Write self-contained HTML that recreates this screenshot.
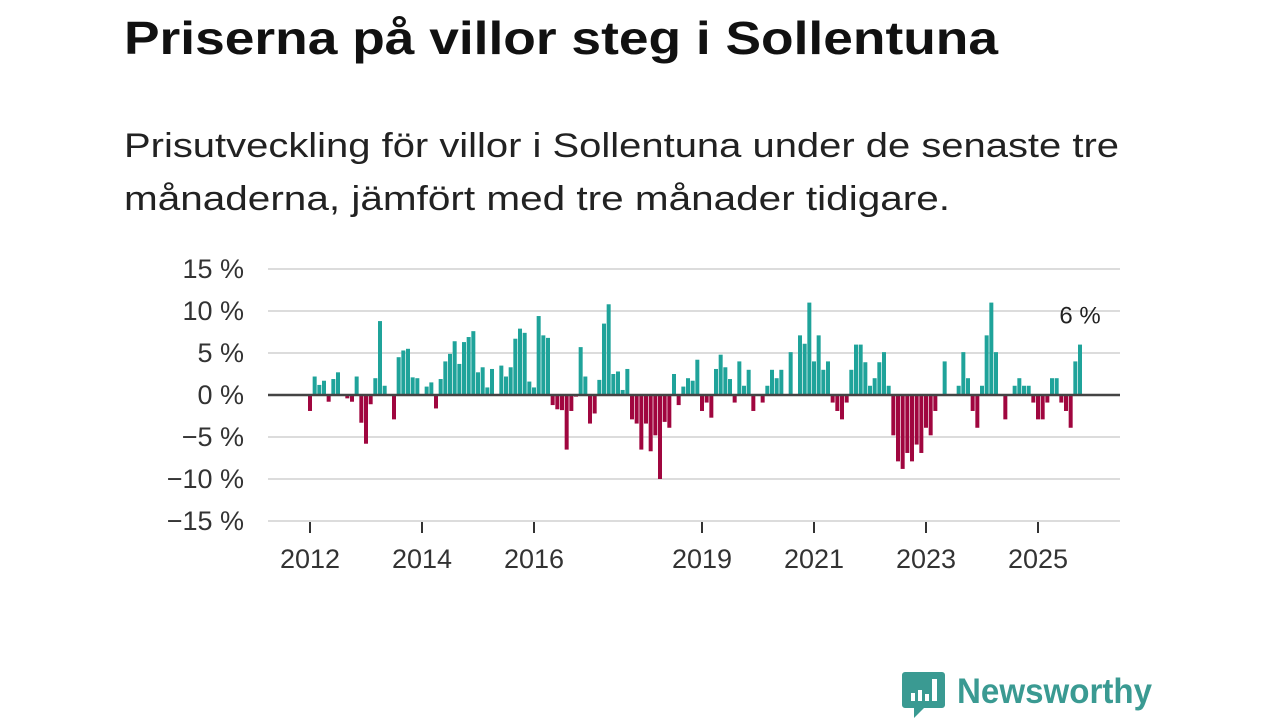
<!DOCTYPE html>
<html><head><meta charset="utf-8"><style>
html,body{margin:0;padding:0;background:#fff;width:1280px;height:720px;overflow:hidden}
svg{display:block;font-family:"Liberation Sans",sans-serif}
</style></head><body>
<svg id="chart" width="1280" height="720" viewBox="0 0 1280 720">
<text x="124" y="54" font-size="46" font-weight="bold" fill="#111" textLength="874" lengthAdjust="spacingAndGlyphs">Priserna på villor steg i Sollentuna</text>
<text x="124" y="157" font-size="34" fill="#222" textLength="995" lengthAdjust="spacingAndGlyphs">Prisutveckling för villor i Sollentuna under de senaste tre</text>
<text x="124" y="210" font-size="34" fill="#222" textLength="826" lengthAdjust="spacingAndGlyphs">månaderna, jämfört med tre månader tidigare.</text>
<g id="grid"></g><g id="bars"></g><g id="axes"></g>
<g>
<path d="M905 672 h37 a3 3 0 0 1 3 3 v30 a3 3 0 0 1 -3 3 h-18 l-10 10 v-10 h-9 a3 3 0 0 1 -3 -3 v-30 a3 3 0 0 1 3 -3z" fill="#3a9a92"/>
<rect x="911" y="693" width="4" height="8" fill="#fff"/><rect x="918" y="690" width="4" height="11" fill="#fff"/><rect x="925" y="694" width="4" height="7" fill="#fff"/><rect x="932" y="679" width="5" height="22" fill="#fff"/>
<text x="957" y="703" font-size="35" font-weight="bold" fill="#3a9a92" textLength="195" lengthAdjust="spacingAndGlyphs">Newsworthy</text>
</g>
</svg>
<script>
const values=[-1.9,2.2,1.2,1.7,-0.8,1.9,2.7,0,-0.4,-0.8,2.2,-3.3,-5.8,-1.1,2.0,8.8,1.1,0.1,-2.9,4.5,5.3,5.5,2.1,2.0,0,1.0,1.5,-1.6,1.9,4.0,4.9,6.4,3.7,6.3,6.9,7.6,2.7,3.3,0.9,3.1,0,3.5,2.2,3.3,6.7,7.9,7.4,1.6,0.9,9.4,7.1,6.8,-1.2,-1.7,-1.8,-6.5,-1.9,-0.2,5.7,2.2,-3.4,-2.2,1.8,8.5,10.8,2.5,2.8,0.6,3.1,-2.9,-3.4,-6.5,-3.4,-6.7,-4.8,-10,-3.2,-3.9,2.5,-1.2,1.0,2.0,1.7,4.2,-1.9,-0.9,-2.7,3.1,4.8,3.3,1.9,-0.9,4.0,1.1,3.0,-1.9,0,-0.9,1.1,3.0,2.0,3.0,0,5.1,0,7.1,6.1,11.0,4.0,7.1,3.0,4.0,-0.9,-1.9,-2.9,-0.9,3.0,6.0,6.0,3.9,1.1,2.0,3.9,5.1,1.1,-4.8,-7.9,-8.8,-6.9,-7.9,-5.9,-6.9,-3.9,-4.8,-1.9,0,4.0,0,0,1.1,5.1,2.0,-1.9,-3.9,1.1,7.1,11.0,5.1,0,-2.9,0,1.1,2.0,1.1,1.1,-0.9,-2.9,-2.9,-0.9,2.0,2.0,-0.9,-1.9,-3.9,4.0,6.0];
const startYear=2012;
const yTicks=[15,10,5,0,-5,-10,-15];
const xTickYears=[2012,2014,2016,2019,2021,2023,2025];
const lastLabel="6 %";
const NS="http://www.w3.org/2000/svg";
const x=m=>310+m*(56/12);
const y=v=>395-v*8.4;
function mk(tag,attrs,parent){const e=document.createElementNS(NS,tag);for(const k in attrs)e.setAttribute(k,attrs[k]);parent.appendChild(e);return e;}
const grid=document.getElementById('grid'),bars=document.getElementById('bars'),axes=document.getElementById('axes');
yTicks.forEach((t,i)=>{
 const l=mk('line',{x1:268,x2:1120,y1:y(t),y2:y(t),stroke:'#dcdcdc','stroke-width':2},grid);
 
 
 const lab=mk('text',{x:244,y:y(t)+9,'font-size':27,'text-anchor':'end',fill:'#333'},axes);
 lab.textContent=(t<0?'\u2212':'')+Math.abs(t)+' %';
 
 
});
values.forEach((v,i)=>{
 const r=mk('rect',{x:x(i)-2,width:4,y:v>=0?y(v):y(0),height:Math.abs(y(v)-y(0)),fill:v>=0?'#1fa39a':'#a0063f'},bars);
 
 
});
const zl=mk('line',{x1:268,x2:1120,y1:y(0),y2:y(0),stroke:'#444','stroke-width':2.5},axes);


xTickYears.forEach(yr=>{
 const xx=x((yr-startYear)*12);
 const tk=mk('line',{x1:xx,x2:xx,y1:522,y2:533,stroke:'#333','stroke-width':2},axes);
 
 
 const lab=mk('text',{x:xx,y:568,'font-size':27,'text-anchor':'middle',fill:'#333'},axes);
 lab.textContent=yr;
 
 
});
const li=values.length-1;
const ll=mk('text',{x:x(li),y:y(values[li])-21,'font-size':24,'text-anchor':'middle',fill:'#222'},axes);
ll.textContent=lastLabel;


</script>
</body></html>
